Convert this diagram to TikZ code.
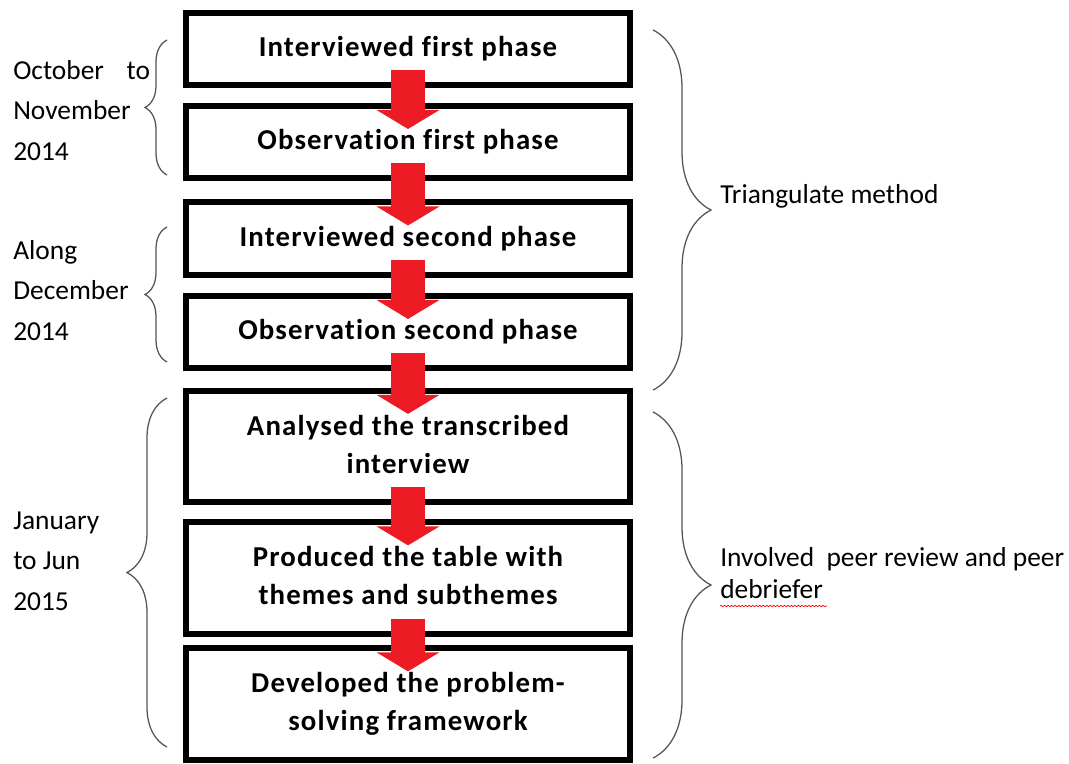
\documentclass[tikz,border=0pt]{standalone}
\usepackage{fontspec}
\setmainfont{Carlito}[Ligatures=NoCommon]
\newfontfamily\stagefont{Carlito}[LetterSpace=4, Ligatures=NoCommon]
\usepackage{tikz}
\usetikzlibrary{arrows.meta,decorations.pathreplacing,decorations.pathmorphing}
\definecolor{arrowred}{HTML}{ED1C24}
\definecolor{bracegray}{HTML}{555555}

\begin{document}
\begin{tikzpicture}
			[x=0.025cm, y=-0.025cm,
			 phase/.style={draw, line width=0.15cm, minimum width=11.1cm, minimum height=1.8cm,
			   inner sep=0pt, align=center, font=\fontsize{20.5}{27}\stagefont\bfseries},
			 tall/.style={minimum height=2.78cm},
			 flow/.style={draw=arrowred, line width=0.85cm, shorten <=-0.45cm, shorten >=-0.65cm,
			   -{Triangle[width=1.55cm,length=0.475cm]}},
			 period/.style={decorate, decoration={brace, amplitude=#1}, draw=bracegray, line width=0.9pt},
			 note/.style={inner sep=0pt, align=left, font=\fontsize{19.5}{28.5}\selectfont},]
			\useasboundingbox (0,0) rectangle (1069,763);
          	\node[phase] (P1) at (408,49) {Interviewed first phase\strut};
          	\node[phase] (P2) at (408,142) {Observation first phase\strut};
          	\node[phase] (P3) at (408,238.5) {Interviewed second phase\strut};
          	\node[phase] (P4) at (408,332) {Observation second phase\strut};
          	\node[phase, tall] (P5) at (408,446.5) {Analysed the transcribed\strut\\interview\strut};
          	\node[phase, tall] (P6) at (408,578) {Produced the table with\strut\\themes and subthemes\strut};
          	\node[phase, tall] (P7) at (408,704) {Developed the problem-\strut\\solving framework\strut};
         	\draw[flow] (P1) -- (P2);
         	\draw[flow] (P2) -- (P3);
         	\draw[flow] (P3) -- (P4);
         	\draw[flow] (P4) -- (P5);
         	\draw[flow] (P5) -- (P6);
         	\draw[flow] (P6) -- (P7);
            % time periods on the left
            \draw[period=0.55cm] (167,175) -- (167,40);
            \draw[period=0.55cm] (167,362) -- (167,227);
            \draw[period=1.0cm] (167,747) -- (167,398);
            \node[note, anchor=base west] (oct) at (13,160) {\makebox[3.42cm][s]{October to}\\November\\2014};
            \node[note, anchor=base west] (dec) at (13,340) {Along\\December\\2014};
            \node[note, anchor=base west] (jan) at (13,610) {January\\to Jun\\2015};
            % methods on the right
            \draw[period=1.45cm] (653,30) -- (653,390);
            \draw[period=1.45cm] (653,412) -- (653,758);
            \node[note, anchor=base west] (tri) at (720,203) {Triangulate method};
            \node[note, anchor=base west, font=\fontsize{19.5}{22.5}\selectfont] (peer) at (720,598) {Involved\ \ peer review and peer\\debriefer};
            \draw[red, line width=0.5pt, decorate, decoration={snake, amplitude=0.5pt, segment length=2.5pt}] (720,606) -- (827,606);
			\end{tikzpicture}
\end{document}
